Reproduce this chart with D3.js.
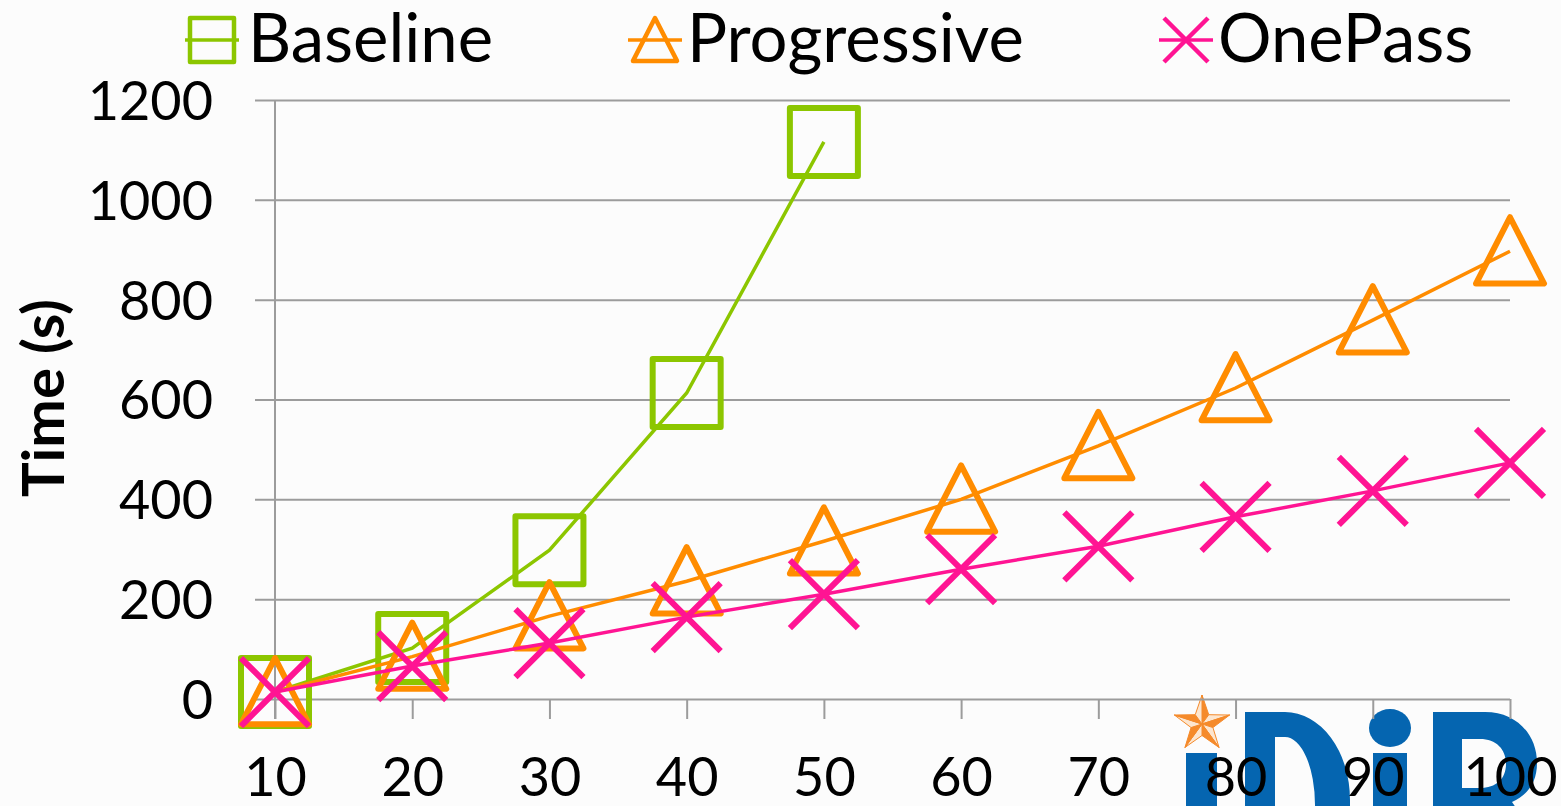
<!DOCTYPE html>
<html>
<head>
<meta charset="utf-8">
<script src="https://cdn.jsdelivr.net/npm/d3@7"></script>
<style>
  html, body { margin: 0; padding: 0; background: #fcfcfc; }
  svg { display: block; }
  text { font-family: Lato, "Open Sans", sans-serif; fill: #000; }
</style>
</head>
<body>
<svg id="chart" width="1561" height="806"></svg>
<script>
// Data sizes (x categories) and run times in seconds
const categories = [10, 20, 30, 40, 50, 60, 70, 80, 90, 100];
const baseline    = [14, 102, 298, 613, 1116];
const progressive = [14, 85, 166, 236, 316, 400, 507, 623, 759, 897];
const onePass     = [14, 66, 112, 164, 210, 260, 306, 365, 417, 473];
const yTicks = [0, 200, 400, 600, 800, 1000, 1200];
const seriesNames = ["Baseline", "Progressive", "OnePass"];

const W = 1561, H = 806;
const plot = { left: 275, right: 1510, top: 100, bottom: 699, gridLeft: 255 };
const colors = { Baseline: "#8cc600", Progressive: "#ff8c00", OnePass: "#ff1493" };

const svg = d3.select("#chart");

const x = d3.scalePoint().domain(categories).range([plot.left, plot.right]);
const y = d3.scaleLinear().domain([0, 1200]).range([plot.bottom, plot.top]);

// ---- logo in the lower right corner ----
const logo = svg.append("g").attr("class", "logo");
const blue = "#0565b0";
logo.append("rect").attr("x", 1186).attr("y", 753).attr("width", 31).attr("height", 80).attr("fill", blue);
logo.append("path").attr("fill", blue).attr("fill-rule", "evenodd")
  .attr("d", "M1245,712 H1285 A65,88 0 0 1 1350,800 V840 H1245 Z " +
             "M1275,737 H1285 A30,68 0 0 1 1315,805 V840 H1275 Z");
logo.append("ellipse").attr("cx", 1390).attr("cy", 728).attr("rx", 21).attr("ry", 19).attr("fill", blue);
logo.append("rect").attr("x", 1373).attr("y", 753).attr("width", 34).attr("height", 80).attr("fill", blue);
logo.append("path").attr("fill", blue).attr("fill-rule", "evenodd")
  .attr("d", "M1433,712 H1485 C1517,712 1537,735 1537,763 C1537,782 1528,795 1512,802 L1545,850 H1505 L1480,808 H1462 V850 H1433 Z " +
             "M1462,739 H1480 C1496,739 1506,749 1506,764 C1506,779 1496,788 1480,788 H1462 Z");
// faceted star above the first letter
(function drawStar(cx, cy, R, r) {
  const g = logo.append("g");
  const pts = [];
  for (let i = 0; i < 10; i++) {
    const a = -Math.PI / 2 + i * Math.PI / 5;
    const rad = i % 2 === 0 ? R : r;
    pts.push([cx + rad * Math.cos(a), cy + rad * Math.sin(a)]);
  }
  for (let i = 0; i < 10; i++) {
    const p1 = pts[i], p2 = pts[(i + 1) % 10];
    g.append("path")
      .attr("d", `M${cx},${cy} L${p1[0]},${p1[1]} L${p2[0]},${p2[1]} Z`)
      .attr("fill", i % 2 === 0 ? "#f58a2a" : "#fde6cf")
      .attr("stroke", "#f58a2a").attr("stroke-width", 1);
  }
})(1202, 724, 29, 11.5);

// ---- horizontal gridlines + y labels ----
const yAxis = d3.axisLeft(y)
  .tickValues(yTicks)
  .tickSizeInner(-(plot.right - plot.gridLeft))
  .tickSizeOuter(0)
  .tickPadding(42)
  .tickFormat(d3.format("d"));
const gy = svg.append("g").attr("transform", `translate(${plot.gridLeft},0)`).call(yAxis);
gy.select(".domain").remove();
gy.selectAll(".tick line").attr("stroke", "#9c9c9c").attr("stroke-width", 2);
gy.selectAll(".tick text").attr("font-size", 54).attr("font-family", "Lato").attr("dy", "0.36em");

// vertical axis line
svg.append("line")
  .attr("x1", plot.left).attr("x2", plot.left)
  .attr("y1", plot.top).attr("y2", plot.bottom + 20)
  .attr("stroke", "#9c9c9c").attr("stroke-width", 2);

// ---- category axis ----
const xAxis = d3.axisBottom(x).tickSizeInner(20).tickSizeOuter(0).tickPadding(39);
const gx = svg.append("g").attr("transform", `translate(0,${plot.bottom})`).call(xAxis);
gx.select(".domain").remove();
gx.selectAll(".tick line").attr("stroke", "#9c9c9c").attr("stroke-width", 2);
gx.selectAll(".tick text").attr("font-size", 54).attr("font-family", "Lato");

// y axis title
svg.append("text")
  .attr("transform", `translate(64,398) rotate(-90)`)
  .attr("text-anchor", "middle")
  .attr("font-size", 58).attr("font-weight", "bold")
  .text("Time (s)");

// ---- markers ----
function marker(sel, type, size, color, sw) {
  const h = size / 2;
  if (type === "square") {
    sel.append("rect").attr("x", -h).attr("y", -h).attr("width", size).attr("height", size)
      .attr("fill", "none").attr("stroke", color).attr("stroke-width", sw)
      .attr("stroke-linejoin", "round");
  } else if (type === "triangle") {
    sel.append("path").attr("d", `M0,${-h} L${h},${h * 0.95} L${-h},${h * 0.95} Z`)
      .attr("fill", "none").attr("stroke", color).attr("stroke-width", sw)
      .attr("stroke-linejoin", "round");
  } else {
    sel.append("path").attr("d", `M${-h},${-h} L${h},${h} M${h},${-h} L${-h},${h}`)
      .attr("fill", "none").attr("stroke", color).attr("stroke-width", sw);
  }
}

const series = [
  { name: "Baseline", values: baseline, type: "square" },
  { name: "Progressive", values: progressive, type: "triangle" },
  { name: "OnePass", values: onePass, type: "cross" }
];

const line = d3.line().x(d => x(d.c)).y(d => y(d.v));

series.forEach(s => {
  const pts = s.values.map((v, i) => ({ c: categories[i], v }));
  const g = svg.append("g").attr("class", "series");
  g.append("path").datum(pts).attr("d", line)
    .attr("fill", "none").attr("stroke", colors[s.name]).attr("stroke-width", 3.5);
  g.selectAll("g.m").data(pts).join("g").attr("class", "m")
    .attr("transform", d => `translate(${x(d.c)},${y(d.v)})`)
    .each(function () { marker(d3.select(this), s.type, 68, colors[s.name], 6); });
});

// ---- legend ----
const legendItems = [
  { name: "Baseline", type: "square", mx: 212, tx: 248 },
  { name: "Progressive", type: "triangle", mx: 655, tx: 687 },
  { name: "OnePass", type: "cross", mx: 1186, tx: 1218 }
];
const lg = svg.append("g").attr("class", "legend");
legendItems.forEach(it => {
  const g = lg.append("g").attr("transform", `translate(${it.mx},40)`);
  g.append("line").attr("x1", -27).attr("x2", 27).attr("stroke", colors[it.name]).attr("stroke-width", 3.5);
  marker(g, it.type, 44, colors[it.name], 4.5);
  lg.append("text").attr("x", it.tx).attr("y", 62)
    .attr("font-size", 67).text(it.name);
});
</script>
</body>
</html>
